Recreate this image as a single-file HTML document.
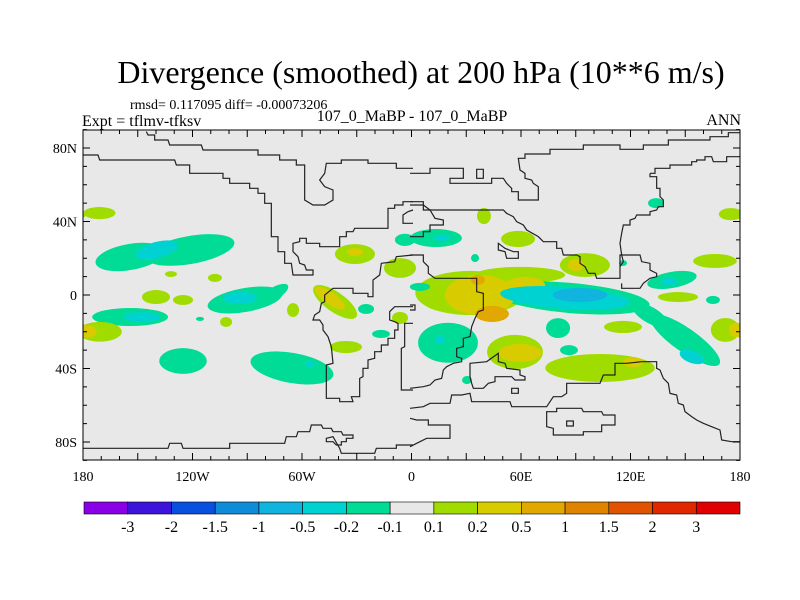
<!DOCTYPE html>
<html><head><meta charset="utf-8"><style>
body{margin:0;background:#fff;}
svg{display:block;font-family:"Liberation Serif",serif;}
</style></head><body>
<svg id="chart" width="800" height="600" viewBox="0 0 800 600">
<text x="421" y="83" font-size="32" text-anchor="middle">Divergence (smoothed) at 200 hPa (10**6 m/s)</text>
<text x="130" y="109" font-size="14">rmsd= 0.117095 diff= -0.00073206</text>
<text x="82" y="126" font-size="16">Expt = tflmv-tfksv</text>
<text x="412" y="121" font-size="16" text-anchor="middle">107_0_MaBP - 107_0_MaBP</text>
<text x="741" y="125" font-size="16" text-anchor="end">ANN</text>
<defs><clipPath id="mapclip"><rect x="83" y="130" width="657" height="330"/></clipPath></defs>
<rect x="83" y="130" width="657" height="330" fill="#e8e8e8"/>
<g id="blobs" clip-path="url(#mapclip)"></g>
<g id="coast" fill="none" stroke="#222" stroke-width="1.2" clip-path="url(#mapclip)">
 <g transform="translate(83,130) scale(0.33333)" stroke-width="3.6">
  <polyline points="190,5 195,15 215,15 215,30 255,30 260,45 355,45 360,60 525,60 525,75 590,75 590,90 640,90 640,105 665,105 665,210 690,225 725,225 750,210 750,180 725,170 710,150 725,130 730,100 775,100 775,90 855,90 855,100 940,100 940,115 990,115"/>
  <polyline points="0,75 45,75 50,90 275,90 280,105 320,105 320,130 420,130 420,145 440,145 440,160 500,160 500,175 525,175 525,190 545,190 545,220 565,220 565,320 585,320 585,365 605,365 605,400 625,400 630,435 690,435 690,420 670,420 665,405 650,400 645,380 630,365 630,340 650,335 650,325 670,325 670,340 710,340 710,350 770,350 770,320 790,320 790,305 810,305 815,295 915,295 915,235 935,235 935,225 960,225 960,215 990,215"/>
  <polyline points="990,240 975,245 960,255 960,280 990,280"/>
  <polyline points="990,375 940,380 935,395 895,400 890,435 870,450 870,500 855,500 855,490 810,490 810,475 750,475 725,495 725,515 715,520 710,545 695,555 690,570 710,570 720,585 720,600 735,620 745,650 750,700 730,705 730,805 770,805 770,815 810,815 805,800 830,800 830,745 840,740 840,715 855,715 855,690 875,685 875,665 895,665 895,645 915,645 915,625 935,625 935,600 945,600 945,580 935,575 920,570 920,545 935,530 990,530"/>
  <polyline points="990,580 965,580 965,650 955,655 955,780 990,780"/>
  <polyline points="0,955 255,955 260,940 295,940 300,955 440,955 440,940 605,940 610,920 640,920 645,905 680,905 685,885 715,885 720,895 745,895 750,905 775,905 780,915 810,915 810,925 790,925 790,935 775,935 775,945 760,945 750,935 730,935 730,925 750,920 770,955 775,970 875,970 880,955 940,955 940,945 990,945"/>
 </g>
 <g transform="translate(410,130) scale(0.33333)" stroke-width="3.6">
  <polyline points="0,130 60,130 60,115 160,115 160,145 120,145 120,160 245,160 245,145 280,145 290,160 305,175 305,185 325,185 325,210 385,210 385,170 370,160 365,150 345,145 345,130 330,120 325,85 345,85 345,72 420,72 420,58 520,58 520,45 630,45 630,58 700,58 700,45 775,45 775,30 900,30 900,20 955,20 955,8 990,8"/>
  <polygon points="200,118 220,118 220,145 200,145"/>
  <polyline points="720,130 735,130 735,115 780,115 780,105 845,105 845,95 860,95 860,90 885,90 885,80 905,80 910,95 950,95 950,80 990,80"/>
  <polyline points="720,130 720,140 740,140 740,175 750,175 750,200 760,210 760,230 745,230 740,240 720,245 720,255 680,255 675,265 660,270 660,285 640,285 635,310 630,340 635,375 640,395 630,410"/>
  <polyline points="0,320 40,320 40,305 60,305 60,285 100,285 100,270 75,265 60,240 40,240 40,215 0,215"/>
  <polyline points="0,225 40,225 60,240 100,240 215,240 280,240 290,250 310,260 320,275 340,285 350,300 385,320 400,335 440,335 440,355 455,355 460,375 500,375 510,380 510,400 525,410 535,430 555,430 560,445 630,445 630,375 690,375 695,395 720,400 720,420 740,430 740,440 720,445 700,460 690,475 635,475 635,460"/>
  <polyline points="0,375 40,375 40,395 55,410 55,430 75,445 200,445 200,485 220,490 220,540 205,545 195,565 185,590 180,620 160,625 160,650 140,655 140,680 155,685 155,695 130,700 120,705 110,710 100,720 95,745 75,750 60,765 40,770 0,775"/>
  <polygon points="265,340 285,355 310,365 325,365 325,385 290,385 285,365 265,360"/>
  <polyline points="0,525 15,525 15,540 0,540"/>
  <polygon points="180,700 230,695 265,670 265,695 285,700 290,715 330,720 330,735 345,740 345,750 315,750 305,740 255,740 255,755 235,760 220,775 190,775 185,760 180,740"/>
  <polyline points="0,835 40,830 60,820 120,820 125,795 155,795 180,790 185,815 300,815 305,830 410,830 430,800 455,800 470,790 470,760 570,760 580,735 615,735 615,700 650,700 695,695 740,695 740,715 750,720 760,745 775,760 780,790 800,795 805,820 820,825 825,845 845,860 860,870 880,880 905,890 930,900 935,930 965,935 990,935"/>
  <polyline points="0,865 20,870 55,870 55,885 120,885 120,925 50,925 20,940 0,950"/>
  <polygon points="410,845 440,845 440,835 515,835 520,845 575,845 580,855 615,855 615,885 575,885 575,905 520,905 520,915 430,915 430,895 410,890"/>
  <polygon points="470,873 490,873 490,888 470,888"/>
  <polygon points="305,775 325,775 325,790 305,790"/>
 </g>
</g>
<rect x="83" y="130" width="657" height="330" fill="none" stroke="#000" stroke-width="1"/>
<g id="axes"></g>
<g id="colorbar"></g>
</svg>
<script>
// blob data: lon, lat, radius-lon(deg), radius-lat(deg), rotation(deg), level index
const blobLon = [-171,-154.2,-121.4,-139.5,-131.8,-107.7,-140,-125.2,-154.2,-147.7,-170.7,-177,-91.2,-74.8,-94,-101.6,-115.9,-64.9,-125.2,-65.5,-55.6,-41.9,-44.7,-31,-31,-24.9,-35.9,-16.7,-6.3,-6.3,-3.6,
 13.4,16.7,39.7,58.4,34.8,21.1,32.1,95,59.5,90,37.5,62.2,36.4,44.1,56.7,59.5,103.3,121.4,86.8,84.1,92.3,149.9,153.7,130.7,80.3,115.9,86.3,20,15.6,4.6,142.7,141,146,165.2,166.3,175,134,172,178,115.9,30.4];
const blobLat = [44.6,20.7,24.5,24.5,11.4,9.3,-1.1,-2.7,-12,-12,-20,-20,-2.7,1.1,-1.6,-14.7,-13,-8.2,-35.9,-39.7,-37.5,-3.8,-1.6,22.3,23.4,-7.6,-28.3,-21.2,14.7,-12.5,30,
 31,31,43,30.5,20.1,-2.7,1.1,16.3,10.9,16.3,0,5.4,8.2,-10.3,-31,-31.6,-39.7,-36.5,-1.6,-1.6,0,-24.5,-33.7,-10.9,-18,-17.4,-30,-26,-24.5,4.4,8.2,7.1,-1.1,-2.7,18.5,44,50,-19,-19,17.4,-46.3];
const blobRx = [8.8,19.2,24.7,12,3.3,3.8,7.7,5.5,20.8,9.9,12,4.4,20.8,8.2,9.3,3.3,2.2,3.3,13,23,2.7,14.2,9.9,11,4.4,4.4,8.8,4.9,8.8,4.4,5.5,
 14.2,4.4,3.8,9.3,2.2,15.3,30,13.7,24.7,4.4,19.2,11,3.8,9.3,15.3,12,30,5.5,43.8,35.6,14.8,23,7.1,11,6.6,10.4,4.9,16.4,2.7,5.5,13.7,4.4,11,3.8,12,6.6,4.4,8,4,2.2,2.7];
const blobRy = [3.3,7.1,7.6,4.4,1.6,2.2,3.8,2.7,4.9,2.7,5.4,3.3,6.5,3.3,3.3,2.7,1.1,3.8,7,8.2,1.6,5.4,3.3,5.4,2.2,2.7,3.3,2.2,5.4,3.3,3.3,
 4.9,1.6,4.4,4.4,2.2,6.5,12,6.5,4.4,3.3,10.9,4.4,2.7,4.4,9.3,4.9,7.6,2.7,8.2,6,3.8,6.5,3.3,4.4,5.4,3.3,2.7,10.9,2.2,2.2,4.4,2.2,2.7,2.2,3.8,3.3,2.7,6.5,4,1.6,2.2];
const blobRot = [0,-10,-10,-15,0,0,0,0,0,0,0,0,-10,-30,0,0,0,0,0,10,0,35,35,0,0,0,0,0,0,0,0,
 0,0,0,0,0,0,0,0,0,0,0,0,0,0,0,0,0,0,5,4,0,35,20,30,0,0,0,0,0,0,-10,0,0,0,0,0,0,0,0,0,0];
const blobLevel = [8,6,6,5,8,8,8,8,6,5,8,9,6,6,5,8,6,8,6,6,5,8,9,8,9,6,8,6,8,8,6,
 6,5,8,8,6,8,8,8,8,9,9,9,10,10,8,9,8,9,6,5,4,6,5,6,6,8,6,6,5,6,6,5,8,6,8,8,6,8,9,6,6];
const levelColors = ["#8a00e6","#3c14dc","#0a50e0","#0e8cd8","#10b4de","#00d2d2","#00dc96","#e8e8e8","#a0dc00","#d8cc00","#e0a800","#e08400","#e05400","#e02800","#e00000"];
const cbLabels = ["-3","-2","-1.5","-1","-0.5","-0.2","-0.1","0.1","0.2","0.5","1","1.5","2","3"];
const xTickLabels = ["180","120W","60W","0","60E","120E","180"];
const xTickLons = [-180,-120,-60,0,60,120,180];
const yTickLabels = ["80N","40N","0","40S","80S"];
const yTickLats = [80,40,0,-40,-80];

const NS="http://www.w3.org/2000/svg";
const X0=83,W=657,Y0=130,H=330;
function xOf(lon){return X0+(lon+180)/360*W;}
function yOf(lat){return 295-lat*1.8375;}
function kx(d){return d/360*W;}
function ky(d){return d*1.8375;}
const blobs=document.getElementById('blobs');
const order=blobLevel.map((l,i)=>i).sort((a,b)=>Math.abs(blobLevel[a]-7)-Math.abs(blobLevel[b]-7));
order.forEach(i=>{
 [-360,0,360].forEach(sh=>{
  const cx=xOf(blobLon[i]+sh);
  if(cx+kx(blobRx[i])<X0-5||cx-kx(blobRx[i])>X0+W+5)return;
  const cy=yOf(blobLat[i]);
  const e=document.createElementNS(NS,'ellipse');
  e.setAttribute('cx',cx);e.setAttribute('cy',cy);
  e.setAttribute('rx',kx(blobRx[i]));e.setAttribute('ry',ky(blobRy[i]));
  e.setAttribute('transform','rotate('+blobRot[i]+' '+cx+' '+cy+')');
  e.setAttribute('fill',levelColors[blobLevel[i]]);
  
  
  blobs.appendChild(e);
 });
});
const axes=document.getElementById('axes');
function line(x1,y1,x2,y2,p){const l=document.createElementNS(NS,'line');l.setAttribute('x1',x1);l.setAttribute('y1',y1);l.setAttribute('x2',x2);l.setAttribute('y2',y2);l.setAttribute('stroke','#000');l.setAttribute('stroke-width',1);p.appendChild(l);return l;}
for(let lon=-180;lon<=180;lon+=10){
 const x=xOf(lon),len=(lon%30===0)?7:4;
 const t1=line(x,Y0+H,x,Y0+H-len,axes);
 
 
 const t2=line(x,Y0,x,Y0+len,axes);
 
 
}
for(let lat=-90;lat<=90;lat+=10){
 const y=yOf(lat),len=(lat%40===0)?7:4;
 const t1=line(X0,y,X0+len,y,axes);
 
 
 const t2=line(X0+W,y,X0+W-len,y,axes);
 
 
}
xTickLabels.forEach((s,i)=>{
 const t=document.createElementNS(NS,'text');t.setAttribute('x',xOf(xTickLons[i]));t.setAttribute('y',481);
 t.setAttribute('font-size',14);t.setAttribute('text-anchor','middle');t.textContent=s;
 
 
 axes.appendChild(t);
});
yTickLabels.forEach((s,i)=>{
 const t=document.createElementNS(NS,'text');t.setAttribute('x',77);t.setAttribute('y',yOf(yTickLats[i])+5);
 t.setAttribute('font-size',14);t.setAttribute('text-anchor','end');t.textContent=s;
 
 
 axes.appendChild(t);
});
const cb=document.getElementById('colorbar');
const cbX=84,cbW=656,cbY=502,cbH=12,bw=cbW/levelColors.length;
levelColors.forEach((c,i)=>{
 const r=document.createElementNS(NS,'rect');r.setAttribute('x',cbX+i*bw);r.setAttribute('y',cbY);r.setAttribute('width',bw);r.setAttribute('height',cbH);
 r.setAttribute('fill',c);r.setAttribute('stroke','#000');r.setAttribute('stroke-width',0.6);
 
 
 cb.appendChild(r);
});
cbLabels.forEach((s,i)=>{
 const t=document.createElementNS(NS,'text');t.setAttribute('x',cbX+(i+1)*bw);t.setAttribute('y',532);
 t.setAttribute('font-size',16);t.setAttribute('text-anchor','middle');t.textContent=s;
 
 
 cb.appendChild(t);
});
</script>
</body></html>
